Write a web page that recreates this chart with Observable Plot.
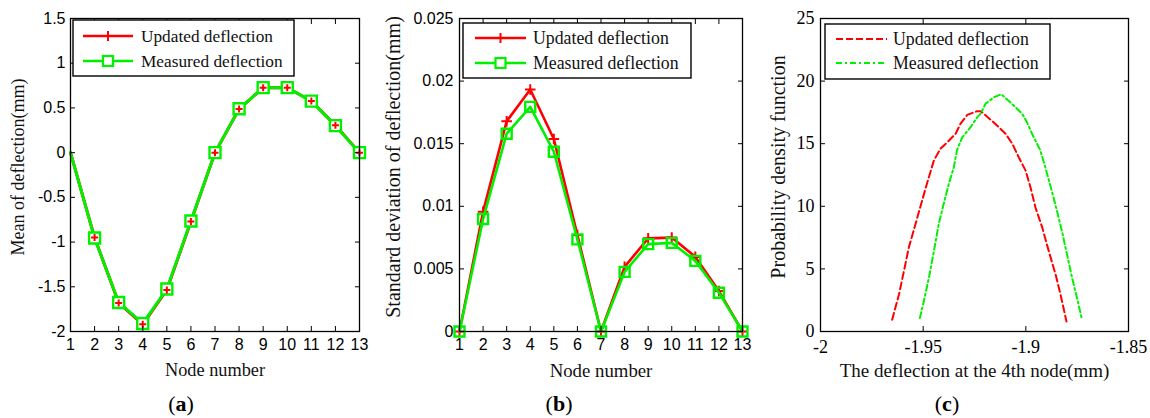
<!DOCTYPE html>
<html><head><meta charset="utf-8">
<script src="https://cdn.jsdelivr.net/npm/d3@7"></script>
<script src="https://cdn.jsdelivr.net/npm/@observablehq/plot@0.6"></script>
<style>
body{margin:0;background:#fff;width:1150px;height:418px;overflow:hidden;position:relative;font-family:"Liberation Serif","Times New Roman",serif;}
.panel{position:absolute;top:0;}
.legend{position:absolute;overflow:visible;}
.caption{position:absolute;font-size:22px;transform:translate(-50%,-50%);white-space:nowrap;color:#000;}
</style></head><body>
<div id="root"></div>
<script>
// ---------------- data ----------------
const nodes = [1,2,3,4,5,6,7,8,9,10,11,12,13];
const seriesNames = ["Updated deflection", "Measured deflection"];

// (a) mean of deflection (mm)
const meanUpdated  = [0,-0.95,-1.68,-1.92,-1.535,-0.77,0,0.488,0.725,0.725,0.578,0.305,0];
const meanMeasured = [0,-0.955,-1.675,-1.91,-1.525,-0.765,0,0.49,0.727,0.727,0.576,0.302,0];

// (b) standard deviation of deflection (mm)
const stdUpdated  = [0,0.00957,0.01679,0.01933,0.01538,0.0077,0,0.00516,0.00744,0.0075,0.00596,0.00323,0];
const stdMeasured = [0,0.00898,0.0158,0.01794,0.01436,0.00736,0,0.00476,0.00698,0.00708,0.00564,0.0031,0];

// (c) probability density function at the 4th node
const pdfUpdatedX = [-1.9651,-1.9618,-1.9594,-1.957,-1.9537,-1.9513,-1.948,-1.9448,-1.9416,-1.9383,-1.9342,-1.9318,-1.9285,-1.9237,-1.922,-1.9156,-1.9099,-1.9066,-1.9034,-1.9001,-1.8977,-1.8953,-1.892,-1.8888,-1.8855,-1.8831,-1.8802];
const pdfUpdatedY = [0.94,2.95,4.8,6.7,8.6,10.0,11.9,13.65,14.6,15.1,15.8,16.6,17.3,17.6,17.6,16.7,15.8,15.0,13.9,12.85,11.5,9.9,8.3,6.4,4.55,2.95,0.8];
const pdfMeasuredX = [-1.9516,-1.9497,-1.9472,-1.9448,-1.9424,-1.94,-1.9375,-1.9351,-1.9335,-1.931,-1.927,-1.9237,-1.922,-1.9196,-1.9156,-1.912,-1.9075,-1.9018,-1.8994,-1.897,-1.8929,-1.8905,-1.8873,-1.8848,-1.8824,-1.88,-1.8775,-1.8751,-1.8727];
const pdfMeasuredY = [1.07,2.4,4.3,6.4,8.6,10.2,11.8,13.1,14.5,15.5,16.3,17.1,17.4,18.2,18.7,18.95,18.3,17.4,16.7,15.8,14.45,13.1,11.2,9.6,8.0,6.2,4.3,2.7,1.0];

// tick labels
const nodeTicks = nodes;
const meanTicks = [-2,-1.5,-1,-0.5,0,0.5,1,1.5];
const stdTicks = [0,0.005,0.01,0.015,0.02,0.025];
const pdfXTicks = [-2,-1.95,-1.9,-1.85];
const pdfYTicks = [0,5,10,15,20,25];

const titles = {
  a: ["Node number", "Mean of deflection(mm)"],
  b: ["Node number", "Standard deviation of deflection(mm)"],
  c: ["The deflection at the 4th node(mm)", "Probability density function"]
};

// ---------------- helpers ----------------
const RED = "#ff0000", GREEN = "#00f000";
const SERIF = "'Liberation Serif','Times New Roman',serif";
const SANS = "'Liberation Sans',Arial,sans-serif";

const plusSymbol = {draw(ctx, size) { const r = Math.sqrt(size / Math.PI); ctx.moveTo(-r, 0); ctx.lineTo(r, 0); ctx.moveTo(0, -r); ctx.lineTo(0, r); }};
const squareSymbol = {draw(ctx, size) { const r = Math.sqrt(size / Math.PI); ctx.rect(-r, -r, 2 * r, 2 * r); }};

const table = (xs, ys) => xs.map((x, i) => ({x, y: ys[i]}));

function makePanel({left, width, mLeft, mRight, xDomain, xTicks, yDomain, yTicks, font, fontSize, xGap, yGap, marks, t, yDx, xts, yts}) {
  const fmt = d => String(d);
  const svg = Plot.plot({
    width, height: 418,
    marginLeft: mLeft, marginRight: mRight, marginTop: 18, marginBottom: 87,
    x: {domain: xDomain},
    y: {domain: yDomain},
    style: {fontFamily: font, fontSize: fontSize + "px", color: "#000", background: "transparent", overflow: "visible"},
    marks: [
      ...marks,
      Plot.frame({stroke: "#000", strokeWidth: 1.3}),
      Plot.axisX(xTicks, {anchor: "bottom", tickSize: -5, tickPadding: xGap + 5, tickFormat: fmt, label: null, fill: "#000"}),
      Plot.axisX(xTicks, {anchor: "top", tickSize: -5, tickFormat: () => "", label: null}),
      Plot.axisY(yTicks, {anchor: "left", tickSize: -5, tickPadding: yGap + 5, tickFormat: fmt, label: null, fill: "#000"}),
      Plot.axisY(yTicks, {anchor: "right", tickSize: -5, tickFormat: () => "", label: null}),
      Plot.text([t[0]], {text: d => d, frameAnchor: "bottom", lineAnchor: "middle", textAnchor: "middle", dy: 39, fontFamily: SERIF, fontSize: xts, fill: "#111"}),
      Plot.text([t[1]], {text: d => d, frameAnchor: "left", textAnchor: "middle", lineAnchor: "middle", rotate: -90, dx: yDx, dy: -8, fontFamily: SERIF, fontSize: yts, fill: "#111"})
    ]
  });
  svg.classList.add("panel");
  svg.style.left = left + "px";
  svg.style.position = "absolute";
  document.body.appendChild(svg);
}

function makeLegend(left, top, w, h, rows) {
  const ns = "http://www.w3.org/2000/svg";
  const svg = document.createElementNS(ns, "svg");
  svg.setAttribute("class", "legend");
  svg.setAttribute("width", w + 2); svg.setAttribute("height", h + 2);
  svg.style.left = (left - 1) + "px"; svg.style.top = (top - 1) + "px";
  const add = (tag, attrs, parent = svg) => { const el = document.createElementNS(ns, tag); for (const k in attrs) el.setAttribute(k, attrs[k]); parent.appendChild(el); return el; };
  add("rect", {x: 1, y: 1, width: w, height: h, fill: "#fff", stroke: "#000", "stroke-width": 1.4});
  for (const r of rows) {
    const y = r.y + 1;
    add("line", {x1: r.x1 + 1, x2: r.x2 + 1, y1: y, y2: y, stroke: r.color, "stroke-width": r.sw, "stroke-dasharray": r.dash || "none"});
    const cx = (r.x1 + r.x2) / 2 + 1;
    if (r.marker === "plus") {
      add("path", {d: `M${cx - 5},${y}H${cx + 5}M${cx},${y - 5}V${y + 5}`, stroke: r.color, "stroke-width": 2, fill: "none"});
    } else if (r.marker === "square") {
      add("rect", {x: cx - 5, y: y - 5, width: 10, height: 10, stroke: r.color, "stroke-width": 2.2, fill: "#fff"});
    }
    const tx = add("text", {x: r.tx + 1, y: y, dy: "0.35em", "font-family": SERIF, "font-size": r.fs, fill: "#111"});
    tx.textContent = r.label;
  }
  document.body.appendChild(svg);
}

function caption(x, y, letter) {
  const d = document.createElement("div");
  d.className = "caption";
  d.style.left = x + "px"; d.style.top = y + "px";
  d.innerHTML = "(<b>" + letter + "</b>)";
  document.body.appendChild(d);
}

// ---------------- panel (a) ----------------
const aUp = table(nodes, meanUpdated), aMe = table(nodes, meanMeasured);
makePanel({
  left: 0, width: 380, mLeft: 70, mRight: 21,
  xDomain: [1, 13], xTicks: nodeTicks, yDomain: [-2, 1.5], yTicks: meanTicks,
  font: SANS, fontSize: 16, xGap: 7, yGap: 5, t: titles.a, yDx: -52, xts: 18.3, yts: 18,
  marks: [
    Plot.line(aUp, {x: "x", y: "y", stroke: RED, strokeWidth: 3}),
    Plot.line(aMe, {x: "x", y: "y", stroke: GREEN, strokeWidth: 3}),
    Plot.dot(aMe.filter(d => d.x > 1), {x: "x", y: "y", symbol: squareSymbol, r: 5.5, stroke: GREEN, strokeWidth: 2.4, fill: "#fff"}),
    Plot.dot(aUp.filter(d => d.x > 1), {x: "x", y: "y", symbol: plusSymbol, r: 3.5, stroke: RED, strokeWidth: 2, fill: "none"})
  ]
});

// ---------------- panel (b) ----------------
const bUp = table(nodes, stdUpdated), bMe = table(nodes, stdMeasured);
makePanel({
  left: 380, width: 380, mLeft: 79, mRight: 18,
  xDomain: [1, 13], xTicks: nodeTicks, yDomain: [0, 0.025], yTicks: stdTicks,
  font: SANS, fontSize: 16, xGap: 7, yGap: 6, t: titles.b, yDx: -66, xts: 18.8, yts: 20,
  marks: [
    Plot.line(bUp, {x: "x", y: "y", stroke: RED, strokeWidth: 2.6}),
    Plot.dot(bUp, {x: "x", y: "y", symbol: plusSymbol, r: 5.3, stroke: RED, strokeWidth: 2, fill: "none"}),
    Plot.line(bMe, {x: "x", y: "y", stroke: GREEN, strokeWidth: 2.6}),
    Plot.dot(bMe, {x: "x", y: "y", symbol: squareSymbol, r: 5, stroke: GREEN, strokeWidth: 2.4, fill: "none"})
  ]
});

// ---------------- panel (c) ----------------
const cUp = table(pdfUpdatedX, pdfUpdatedY), cMe = table(pdfMeasuredX, pdfMeasuredY);
makePanel({
  left: 760, width: 390, mLeft: 60, mRight: 22,
  xDomain: [-2, -1.85], xTicks: pdfXTicks, yDomain: [0, 25], yTicks: pdfYTicks,
  font: SERIF, fontSize: 18, xGap: 9, yGap: 6, t: titles.c, yDx: -42, xts: 19, yts: 20,
  marks: [
    Plot.line(cUp, {x: "x", y: "y", stroke: RED, strokeWidth: 2, strokeDasharray: "7,3.5"}),
    Plot.line(cMe, {x: "x", y: "y", stroke: GREEN, strokeWidth: 2, strokeDasharray: "6,3,2,3"})
  ]
});

// ---------------- legends ----------------
makeLegend(73, 20, 221, 56, [
  {y: 16, x1: 10, x2: 60, tx: 68, color: RED, sw: 2.6, marker: "plus", label: seriesNames[0], fs: 17.3},
  {y: 41, x1: 10, x2: 60, tx: 68, color: GREEN, sw: 2.6, marker: "square", label: seriesNames[1], fs: 17.3}
]);
makeLegend(463, 23, 228, 55, [
  {y: 15, x1: 12, x2: 63, tx: 70, color: RED, sw: 2.6, marker: "plus", label: seriesNames[0], fs: 17.8},
  {y: 40, x1: 12, x2: 63, tx: 70, color: GREEN, sw: 2.6, marker: "square", label: seriesNames[1], fs: 17.8}
]);
makeLegend(825, 24, 225, 55, [
  {y: 15, x1: 11, x2: 62, tx: 68, color: RED, sw: 2, dash: "7,3", label: seriesNames[0], fs: 17.8},
  {y: 39, x1: 11, x2: 62, tx: 68, color: GREEN, sw: 2, dash: "6,3,2,3", label: seriesNames[1], fs: 17.8}
]);

// ---------------- captions ----------------
caption(181, 404, "a");
caption(559, 404, "b");
caption(947, 404, "c");
</script>
</body></html>
